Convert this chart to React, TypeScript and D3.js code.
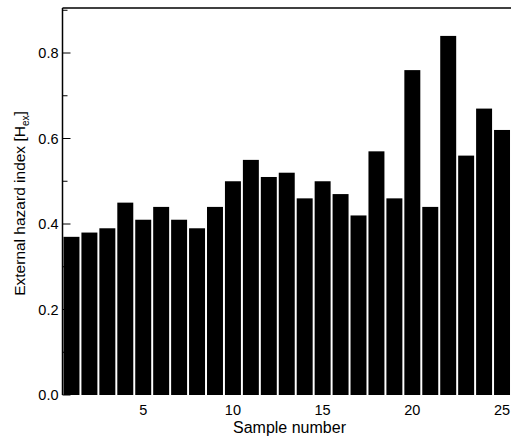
import React, { useEffect, useRef } from 'react';
import * as d3 from 'd3';

const samples = [1, 2, 3, 4, 5, 6, 7, 8, 9, 10, 11, 12, 13, 14, 15, 16, 17, 18, 19, 20, 21, 22, 23, 24, 25];
const hazardIndex = [0.37, 0.38, 0.39, 0.45, 0.41, 0.44, 0.41, 0.39, 0.44, 0.50, 0.55, 0.51, 0.52, 0.46, 0.50, 0.47, 0.42, 0.57, 0.46, 0.76, 0.44, 0.84, 0.56, 0.67, 0.62];
const yTicks = [0.0, 0.2, 0.4, 0.6, 0.8];
const yMinorTicks = [0.1, 0.3, 0.5, 0.7, 0.9];
const xTicks = [5, 10, 15, 20, 25];

export default function App() {
    const svgWidth = 511;
    const svgHeight = 443;
    const left = 62.5;
    const right = 511;
    const top = 8;
    const bottom = 395;

    const svgRef = useRef<SVGSVGElement>(null);

    useEffect(() => {
        const svg = d3.select(svgRef.current);
        svg.selectAll('*').remove();

        const xScale = d3.scaleLinear().domain([0.5, 25.5]).range([left, right]);
        const yScale = d3.scaleLinear().domain([0, 0.9053]).range([bottom, top]);
        const barW = (xScale(1) - xScale(0)) * 0.89;

        // bars
        svg.append('g')
            .selectAll('rect')
            .data(samples)
            .join('rect')
            .attr('x', (d) => xScale(d) - barW / 2)
            .attr('y', (d, i) => yScale(hazardIndex[i]))
            .attr('width', barW)
            .attr('height', (d, i) => bottom - yScale(hazardIndex[i]))
            .attr('fill', '#000');

        // frame
        svg.append('line')
            .attr('x1', left).attr('x2', right)
            .attr('y1', top).attr('y2', top)
            .attr('stroke', '#000').attr('stroke-width', 1.5);
        svg.append('line')
            .attr('x1', left).attr('x2', left)
            .attr('y1', top).attr('y2', bottom)
            .attr('stroke', '#000').attr('stroke-width', 1.5);

        // y ticks (inward)
        const yAxis = svg.append('g');
        yAxis.selectAll('.major')
            .data(yTicks)
            .join('line')
            .attr('class', 'major')
            .attr('x1', left).attr('x2', left + 8)
            .attr('y1', (d) => yScale(d)).attr('y2', (d) => yScale(d))
            .attr('stroke', '#000').attr('stroke-width', 1);
        yAxis.selectAll('.minor')
            .data(yMinorTicks)
            .join('line')
            .attr('class', 'minor')
            .attr('x1', left).attr('x2', left + 5)
            .attr('y1', (d) => yScale(d)).attr('y2', (d) => yScale(d))
            .attr('stroke', '#000').attr('stroke-width', 1);
        yAxis.selectAll('text')
            .data(yTicks)
            .join('text')
            .attr('x', left - 4)
            .attr('y', (d) => yScale(d))
            .attr('dy', '0.35em')
            .attr('text-anchor', 'end')
            .attr('font-family', 'Arial, Liberation Sans, sans-serif')
            .attr('font-size', 14.5)
            .text((d) => d.toFixed(1));

        // x tick labels
        svg.append('g')
            .selectAll('text')
            .data(xTicks)
            .join('text')
            .attr('x', (d) => xScale(d))
            .attr('y', bottom + 20)
            .attr('text-anchor', 'middle')
            .attr('font-family', 'Arial, Liberation Sans, sans-serif')
            .attr('font-size', 14.5)
            .text((d) => d);

        // axis titles
        svg.append('text')
            .attr('x', 289.5)
            .attr('y', 433)
            .attr('text-anchor', 'middle')
            .attr('font-family', 'Arial, Liberation Sans, sans-serif')
            .attr('font-size', 16)
            .text('Sample number');

        const yTitle = svg.append('text')
            .attr('transform', `translate(25, 203.5) rotate(-90)`)
            .attr('text-anchor', 'middle')
            .attr('font-family', 'Arial, Liberation Sans, sans-serif')
            .attr('font-size', 15.5);
        yTitle.append('tspan').text('External hazard index [H');
        yTitle.append('tspan').attr('font-size', 10).attr('dy', 4).text('ex');
        yTitle.append('tspan').attr('dy', -4).text(']');
    }, []);

    return (
        <svg
            width={svgWidth}
            height={svgHeight}
            ref={svgRef}
            style={{ position: 'absolute', left: 0, top: 0, background: '#fff' }}
        />
    );
}
